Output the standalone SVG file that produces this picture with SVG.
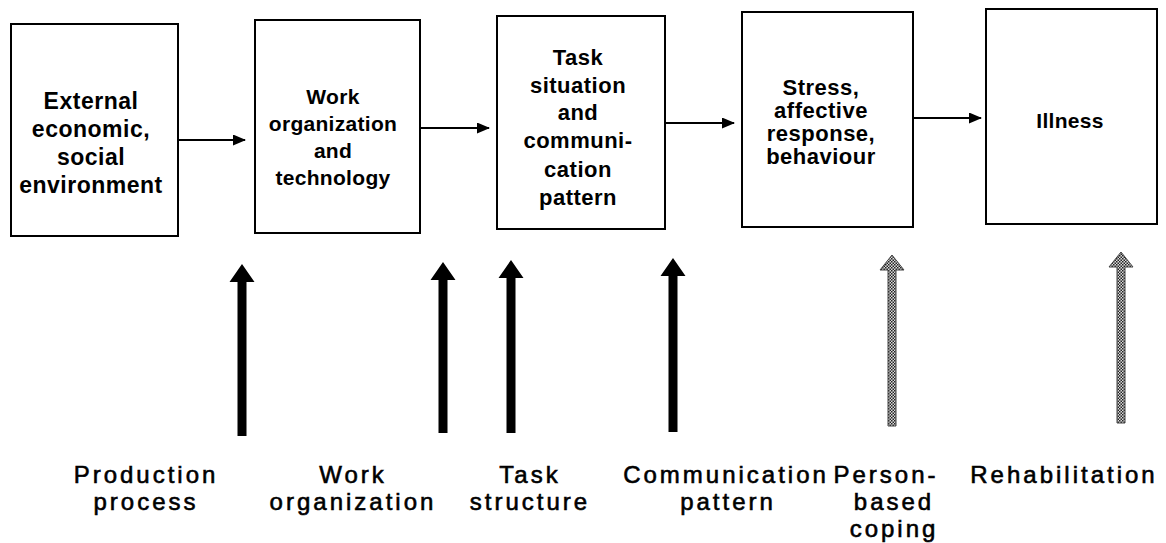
<svg xmlns="http://www.w3.org/2000/svg" width="1166" height="543" viewBox="0 0 1166 543">
<style>
.box{fill:#fff;stroke:#000;stroke-width:2}
.bt{font-family:"Liberation Sans",Arial,sans-serif;font-weight:bold;text-anchor:middle;fill:#000}
.lab{font-family:"Liberation Sans",Arial,sans-serif;font-size:24px;letter-spacing:3px;text-anchor:middle;fill:#000;stroke:#000;stroke-width:0.6}
.h{stroke:#000;stroke-width:2;fill:none;marker-end:url(#ah)}
.up{fill:#000}
.upg{fill:url(#dots);stroke:#444;stroke-width:1}
</style>
<defs>
<marker id="ah" markerWidth="13" markerHeight="11" refX="12" refY="5.5" orient="auto" markerUnits="userSpaceOnUse">
<path d="M0,0 L13,5.5 L0,11 Z" fill="#000"/>
</marker>
<pattern id="dots" width="3" height="3" patternUnits="userSpaceOnUse">
<rect width="3" height="3" fill="#ddd"/>
<rect width="1.5" height="1.5" fill="#222"/>
<rect x="1.5" y="1.5" width="1.5" height="1.5" fill="#222"/>
</pattern>
</defs>
<rect width="1166" height="543" fill="#fff"/>
<g id="n1">
<rect class="box" x="11" y="24" width="167" height="212"/>
<text class="bt" font-size="23" letter-spacing="0.5"><tspan x="91" y="109">External</tspan><tspan x="91" y="137">economic,</tspan><tspan x="91" y="165">social</tspan><tspan x="91" y="193">environment</tspan></text>
</g>
<g id="n2">
<rect class="box" x="255" y="20" width="165" height="213"/>
<text class="bt" font-size="21" letter-spacing="0.3"><tspan x="333" y="104">Work</tspan><tspan x="333" y="131">organization</tspan><tspan x="333" y="158">and</tspan><tspan x="333" y="185">technology</tspan></text>
</g>
<g id="n3">
<rect class="box" x="497" y="16" width="168" height="213"/>
<text class="bt" font-size="22" letter-spacing="0.5"><tspan x="578" y="65">Task</tspan><tspan x="578" y="93">situation</tspan><tspan x="578" y="120">and</tspan><tspan x="578" y="148">communi-</tspan><tspan x="578" y="177">cation</tspan><tspan x="578" y="205">pattern</tspan></text>
</g>
<g id="n4">
<rect class="box" x="742" y="12" width="171" height="215"/>
<text class="bt" font-size="22" letter-spacing="0.5"><tspan x="821" y="95">Stress,</tspan><tspan x="821" y="118">affective</tspan><tspan x="821" y="141">response,</tspan><tspan x="821" y="164">behaviour</tspan></text>
</g>
<g id="n5">
<rect class="box" x="986" y="9" width="171" height="215"/>
<text class="bt" font-size="21" x="1070" y="128" letter-spacing="0.3">Illness</text>
</g>
<g id="connectors">
<line class="h" x1="178" y1="140" x2="245" y2="140"/>
<line class="h" x1="420" y1="128" x2="489" y2="128"/>
<line class="h" x1="665" y1="123" x2="734" y2="123"/>
<line class="h" x1="913" y1="118" x2="981" y2="118"/>
<path class="up" d="M237.5,436 L237.5,282 L229.5,282 L242,264 L254.5,282 L246.5,282 L246.5,436 Z"/>
<path class="up" d="M438.5,433 L438.5,280 L430.5,280 L443,262 L455.5,280 L447.5,280 L447.5,433 Z"/>
<path class="up" d="M506.5,433 L506.5,278 L498.5,278 L511,260 L523.5,278 L515.5,278 L515.5,433 Z"/>
<path class="up" d="M668.5,432 L668.5,276 L660.5,276 L673,258 L685.5,276 L677.5,276 L677.5,432 Z"/>
<path class="upg" d="M888,426 L888,270 L880,270 L892,255 L904,270 L896,270 L896,426 Z"/>
<path class="upg" d="M1117,423 L1117,267 L1109,267 L1121,252 L1133,267 L1125,267 L1125,423 Z"/>
</g>
<g id="labels">
<text class="lab"><tspan x="146" y="483">Production</tspan><tspan x="146" y="510">process</tspan></text>
<text class="lab"><tspan x="353" y="483">Work</tspan><tspan x="353" y="510">organization</tspan></text>
<text class="lab"><tspan x="530" y="483">Task</tspan><tspan x="530" y="510">structure</tspan></text>
<text class="lab"><tspan x="726" y="483">Communication</tspan><tspan x="728" y="510">pattern</tspan></text>
<text class="lab"><tspan x="886" y="483">Person-</tspan><tspan x="894" y="510">based</tspan><tspan x="894" y="537">coping</tspan></text>
<text class="lab"><tspan x="1064" y="483">Rehabilitation</tspan></text>
</g>
</svg>
